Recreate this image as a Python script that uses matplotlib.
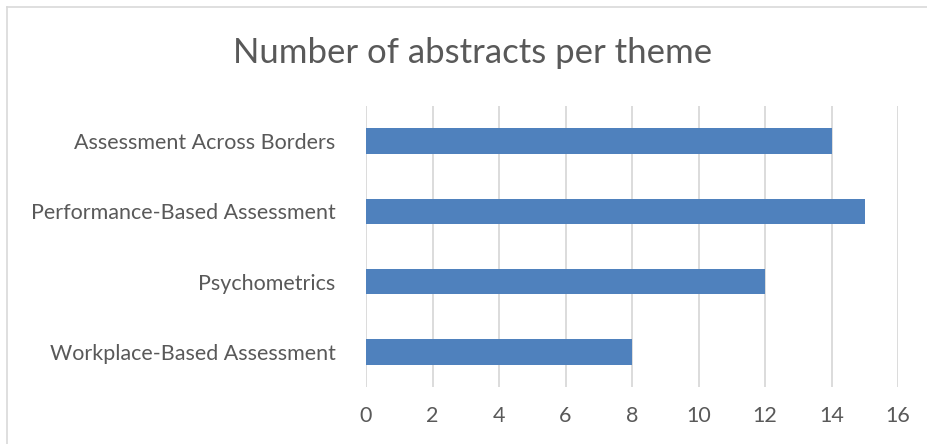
import matplotlib
matplotlib.use("Agg")
import matplotlib.pyplot as plt
from matplotlib.lines import Line2D

# chart data, top to bottom as shown
themes = ["Assessment Across Borders", "Performance-Based Assessment",
          "Psychometrics", "Workplace-Based Assessment"]
counts = [14, 15, 12, 8]
xticks = [0, 2, 4, 6, 8, 10, 12, 14, 16]

text_grey = "#595959"
bar_blue = "#4F81BD"
grid_grey = "#D9D9D9"

plt.rcParams['font.family'] = ['Lato', 'DejaVu Sans']

fig = plt.figure(figsize=(9.27, 4.44), dpi=100)
# chart frame: only the top and left edges are inside the picture
bx, by = 7 / 927, 1 - 7 / 444
fig.lines.append(Line2D([bx, 1], [by, by], transform=fig.transFigure,
                        color=grid_grey, linewidth=1.2))
fig.lines.append(Line2D([bx, bx], [0, by], transform=fig.transFigure,
                        color=grid_grey, linewidth=1.2))

ax = fig.add_axes([366 / 927, 57 / 444, 532 / 927, 281 / 444])
ypos = list(range(len(themes)))
ax.barh(ypos, counts, height=0.36, color=bar_blue, zorder=3)
ax.set_ylim(len(themes) - 0.5, -0.5)
ax.set_xlim(0, 16)
ax.set_xticks(xticks)
ax.set_yticks(ypos)
ax.set_yticklabels(themes)
ax.xaxis.grid(True, color=grid_grey, linewidth=1.3, zorder=0)
ax.tick_params(axis='both', length=0, colors=text_grey, labelsize=15.5)
ax.tick_params(axis='x', pad=14)
ax.tick_params(axis='y', pad=22)
for s in ax.spines.values():
    s.set_visible(False)

fig.text(473 / 927, 1 - 53 / 444, "Number of abstracts per theme", ha='center',
         va='center', fontsize=25, color=text_grey)

fig.savefig("out.png", dpi=100)
